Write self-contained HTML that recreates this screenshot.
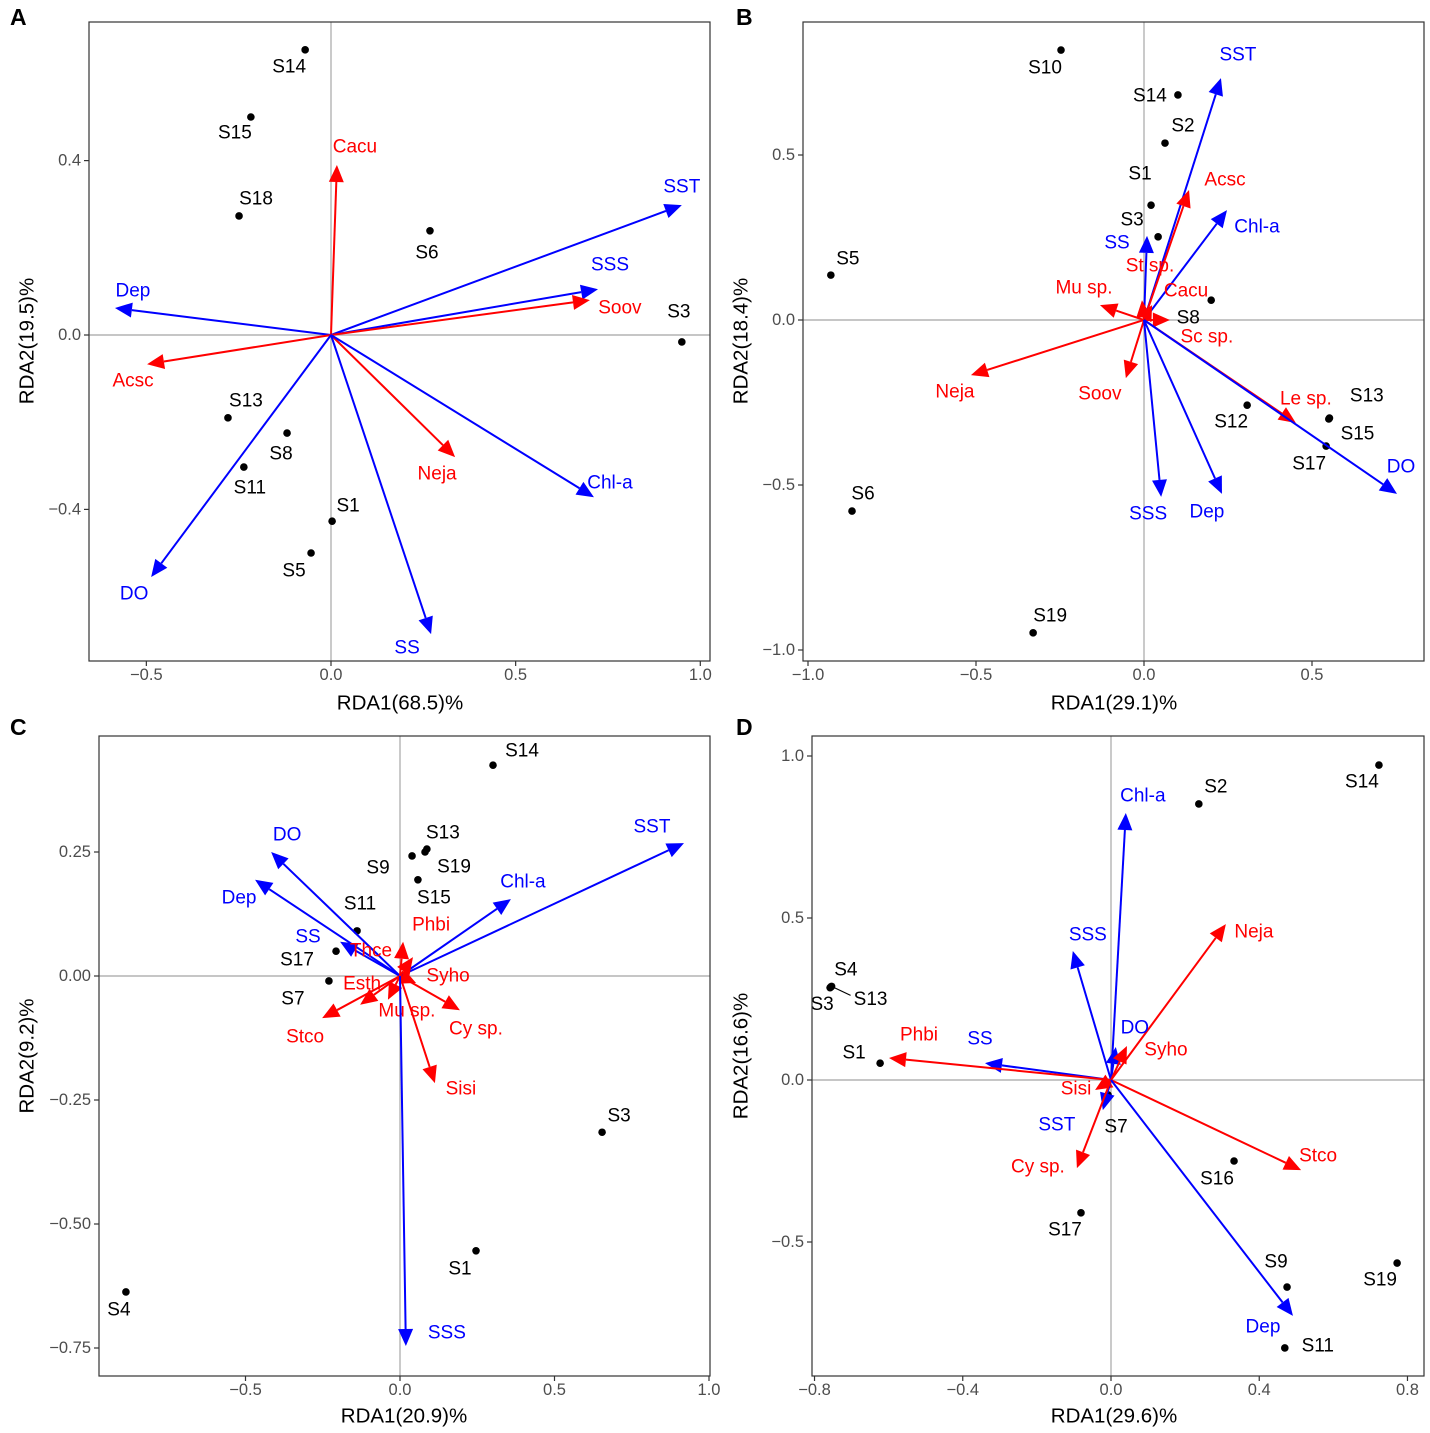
<!DOCTYPE html>
<html><head><meta charset="utf-8"><style>
body{margin:0;background:#fff;}
svg{display:block;font-family:"Liberation Sans",Arial,sans-serif;}
</style></head><body>
<svg id="chart" width="1430" height="1433" viewBox="0 0 1430 1433" xmlns="http://www.w3.org/2000/svg">
</svg>
<script>
// ---------- Panel A data ----------
const aPtNames=['S14','S15','S18','S6','S3','S13','S8','S11','S1','S5'];
const aPtX=[-0.07,-0.217,-0.249,0.268,0.95,-0.279,-0.119,-0.236,0.003,-0.054];
const aPtY=[0.654,0.5,0.273,0.239,-0.016,-0.19,-0.225,-0.303,-0.427,-0.5];
const aArrNames=['Cacu','SST','SSS','Soov','Dep','Acsc','Neja','Chl-a','DO','SS'];
const aArrX=[0.016,0.95,0.723,0.701,-0.585,-0.498,0.336,0.712,-0.487,0.271];
const aArrY=[0.39,0.298,0.105,0.08,0.062,-0.067,-0.28,-0.372,-0.555,-0.686];
const aArrType=['sp','env','env','sp','env','sp','sp','env','env','env'];
const aXTicks=[-0.5,0,0.5,1.0];
const aYTicks=[0.4,0,-0.4];
// ---------- Panel B data ----------
const bPtNames=['S10','S14','S2','S1','S3','S5','S8','S12','S13','S15','S17','S6','S19'];
const bPtX=[-0.247,0.101,0.0625,0.021,0.042,-0.932,0.2,0.307,0.55,0.552,0.542,-0.869,-0.33];
const bPtY=[0.818,0.682,0.536,0.348,0.252,0.136,0.06,-0.258,-0.3,-0.297,-0.382,-0.579,-0.948];
const bArrNames=['SST','Acsc','Chl-a','SS','St sp.','Mu sp.','Cacu','Sc sp.','Neja','Soov','Le sp.','DO','SSS','Dep'];
const bArrX=[0.229,0.134,0.247,0.009,-0.006,-0.131,0.024,0.077,-0.515,-0.054,0.452,0.753,0.051,0.232];
const bArrY=[0.733,0.394,0.333,0.255,0.06,0.045,0.045,0,-0.167,-0.176,-0.312,-0.527,-0.536,-0.527];
const bArrType=['env','sp','env','env','sp','sp','sp','sp','sp','sp','sp','env','env','env'];
const bXTicks=[-1.0,-0.5,0,0.5];
const bYTicks=[0.5,0,-0.5,-1.0];
// ---------- Panel C data ----------
const cPtNames=['S14','S13','S19','S9','S15','S11','S17','S7','S3','S1','S4'];
const cPtX=[0.301,0.087,0.081,0.039,0.058,-0.139,-0.207,-0.23,0.654,0.246,-0.887];
const cPtY=[0.425,0.256,0.25,0.242,0.194,0.091,0.05,-0.01,-0.315,-0.554,-0.637];
const cArrNames=['SST','DO','Dep','Chl-a','SS','Phbi','Thce','Syho','Esth','Mu sp.','Cy sp.','Stco','Sisi','SSS'];
const cArrX=[0.919,-0.417,-0.469,0.359,-0.194,0.01,0.042,0.052,-0.129,-0.039,0.194,-0.252,0.113,0.019];
const cArrY=[0.268,0.25,0.194,0.155,0.069,0.069,0.038,-0.014,-0.058,-0.048,-0.069,-0.085,-0.216,-0.746];
const cArrType=['env','env','env','env','env','sp','sp','sp','sp','sp','sp','sp','sp','env'];
const cXTicks=[-0.5,0,0.5,1.0];
const cYTicks=[0.25,0,-0.25,-0.5,-0.75];
// ---------- Panel D data ----------
const dPtNames=['S14','S2','S4','S3','S13','S1','S16','S17','S9','S19','S11','S7'];
const dPtX=[0.723,0.237,-0.756,-0.758,-0.754,-0.623,0.332,-0.081,0.475,0.772,0.469,-0.008];
const dPtY=[0.972,0.852,0.287,0.285,0.289,0.052,-0.25,-0.41,-0.639,-0.565,-0.827,-0.046];
const dArrNames=['Chl-a','Neja','SSS','SS','Phbi','DO','Syho','Sisi','SST','Cy sp.','Stco','Dep'];
const dArrX=[0.04,0.31,-0.103,-0.34,-0.599,0.013,0.043,-0.043,-0.022,-0.092,0.513,0.491];
const dArrY=[0.824,0.481,0.398,0.052,0.068,0.102,0.105,-0.031,-0.093,-0.272,-0.278,-0.728];
const dArrType=['env','sp','env','env','sp','env','sp','sp','env','sp','sp','env'];
const dXTicks=[-0.8,-0.4,0,0.4,0.8];
const dYTicks=[1.0,0.5,0,-0.5];

// ---------- layout (pixels, not data) ----------
const panels=[
 {id:'a',letter:'A',lx:10,ly:17,box:[89,22,710,661],x0:331,xs:369.3,y0:335,ys:436,dec:1,xt:'RDA1(68.5)%',yt:'RDA2(19.5)%',xtp:[400,703],ytp:[27,341],
  pN:aPtNames,pX:aPtX,pY:aPtY,aN:aArrNames,aX:aArrX,aY:aArrY,aT:aArrType,xT:aXTicks,yT:aYTicks,
  pOff:[[-16,17],[-16,16],[17,-17],[-3,22],[-3,-30],[18,-17],[-6,21],[6,21],[16,-15],[-17,18]],
  aOff:[[18,-18],[0,-18],[12,-24],[30,8],[18,-17],[-14,17],[-18,17],[16,-14],[-17,17],[-24,14]]},
 {id:'b',letter:'B',lx:736,ly:17,box:[803,22,1424,661],x0:1144,xs:336,y0:320,ys:330,dec:1,xt:'RDA1(29.1)%',yt:'RDA2(18.4)%',xtp:[1114,703],ytp:[741,341],
  pN:bPtNames,pX:bPtX,pY:bPtY,aN:bArrNames,aX:bArrX,aY:bArrY,aT:bArrType,xT:bXTicks,yT:bYTicks,
  pOff:[[-16,18],[-28,1],[18,-17],[-11,-31],[-26,-17],[17,-16],[-23,18],[-16,17],[38,-23],[28,16],[-17,18],[11,-17],[17,-17]],
  aOff:[[17,-23],[36,-10],[30,17],[-30,7],[8,-34],[-16,-17],[34,-14],[37,17],[-16,17],[-26,16],[10,-24],[4,-27],[-13,17],[-15,18]]},
 {id:'c',letter:'C',lx:10,ly:727,box:[99,736,710,1376],x0:400,xs:309,y0:976,ys:496,dec:2,xt:'RDA1(20.9)%',yt:'RDA2(9.2)%',xtp:[404,1416],ytp:[27,1056],
  pN:cPtNames,pX:cPtX,pY:cPtY,aN:cArrNames,aX:cArrX,aY:cArrY,aT:cArrType,xT:cXTicks,yT:cYTicks,xdec:1,
  pOff:[[29,-14],[16,-16],[29,15],[-34,12],[16,18],[3,-27],[-39,9],[-36,18],[17,-16],[-16,18],[-7,18]],
  aOff:[[-32,-16],[16,-17],[-16,18],[12,-17],[-32,-5],[28,-17],[-42,-6],[32,-7],[2,-21],[19,11],[16,19],[-17,19],[26,6],[41,-13]]},
 {id:'d',letter:'D',lx:736,ly:727,box:[812,736,1424,1376],x0:1111,xs:370.6,y0:1080,ys:324,dec:1,xt:'RDA1(29.6)%',yt:'RDA2(16.6)%',xtp:[1114,1416],ytp:[741,1056],
  pN:dPtNames,pX:dPtX,pY:dPtY,aN:dArrNames,aX:dArrX,aY:dArrY,aT:dArrType,xT:dXTicks,yT:dYTicks,
  pOff:[[-17,17],[17,-17],[15,-17],[-8,17],[39,13],[-26,-10],[-17,18],[-16,17],[-11,-25],[-17,17],[33,-2],[8,32]],
  aOff:[[17,-17],[28,8],[15,-16],[-5,-24],[30,-23],[19,-19],[39,4],[-19,-1],[-46,15],[-39,-1],[17,-14],[-30,11]]}
];
const NS='http://www.w3.org/2000/svg';
const svg=document.getElementById('chart');
function mk(tag,attrs,parent,text){const e=document.createElementNS(NS,tag);for(const k in attrs)e.setAttribute(k,attrs[k]);if(text!==undefined)e.textContent=text;(parent||svg).appendChild(e);return e;}
function fmt(v,d){const s=Math.abs(v).toFixed(d);return (v<0?'\u2212':'')+s;}
const BLUE='#0000ff',RED='#ff0000';
panels.forEach(p=>{
  const g=mk('g',{});
  
  
  const sx=v=>p.x0+v*p.xs, sy=v=>p.y0-v*p.ys;
  const [L,T,R,B]=p.box;
  const let_=mk('text',{x:p.lx,y:p.ly,'font-size':23,'font-weight':'bold','dominant-baseline':'central'},g,p.letter);
  
  
  const zx=mk('line',{x1:L,x2:R,y1:sy(0),y2:sy(0),stroke:'#b3b3b3','stroke-width':1.4},g);
  
  
  const zy=mk('line',{x1:sx(0),x2:sx(0),y1:T,y2:B,stroke:'#b3b3b3','stroke-width':1.4},g);
  
  
  const xd=p.xdec!==undefined?p.xdec:1;
  p.xT.forEach(v=>{
    mk('line',{x1:sx(v),x2:sx(v),y1:B,y2:B+5,stroke:'#333','stroke-width':1.2},g);
    const t=mk('text',{x:sx(v),y:B+19,'font-size':16.5,fill:'#4d4d4d','text-anchor':'middle'},g,fmt(v,xd));
    
    
  });
  p.yT.forEach(v=>{
    mk('line',{x1:L-5,x2:L,y1:sy(v),y2:sy(v),stroke:'#333','stroke-width':1.2},g);
    const t=mk('text',{x:L-8,y:sy(v),'font-size':16.5,fill:'#4d4d4d','text-anchor':'end','dominant-baseline':'central'},g,fmt(v,p.dec));
    
    
  });
  const xt=mk('text',{x:p.xtp[0],y:p.xtp[1],'font-size':20.5,'text-anchor':'middle','dominant-baseline':'central'},g,p.xt);
  
  
  const yt=mk('text',{x:p.ytp[0],y:p.ytp[1],'font-size':20.5,'text-anchor':'middle','dominant-baseline':'central',transform:`rotate(-90 ${p.ytp[0]} ${p.ytp[1]})`},g,p.yt);
  
  
  if(p.id==='d'){const i=p.pN.indexOf('S13');mk('line',{x1:sx(p.pX[i]),y1:sy(p.pY[i]),x2:sx(p.pX[i])+p.pOff[i][0]-20,y2:sy(p.pY[i])+p.pOff[i][1]-4,stroke:'#000','stroke-width':1.2},g);}
  p.pN.forEach((n,i)=>{
    const c=mk('circle',{cx:sx(p.pX[i]),cy:sy(p.pY[i]),r:3.8,fill:'#000'},g);
    
    
    const t=mk('text',{x:sx(p.pX[i])+p.pOff[i][0],y:sy(p.pY[i])+p.pOff[i][1],'font-size':19,'text-anchor':'middle','dominant-baseline':'central'},g,n);
    
    
  });
  p.aN.forEach((n,i)=>{
    const col=p.aT[i]==='env'?BLUE:RED;
    const x1=sx(0),y1=sy(0),x2=sx(p.aX[i]),y2=sy(p.aY[i]);
    const dx=x2-x1,dy=y2-y1,len=Math.hypot(dx,dy)||1,ux=dx/len,uy=dy/len;
    const hl=Math.min(17,len*0.9),hw=7.5;
    const bx=x2-ux*hl,by=y2-uy*hl;
    const ln=mk('line',{x1:x1,y1:y1,x2:bx,y2:by,stroke:col,'stroke-width':2},g);
    
    
    const hd=mk('polygon',{points:`${x2},${y2} ${bx-uy*hw},${by+ux*hw} ${bx+uy*hw},${by-ux*hw}`,fill:col},g);
    
    
    const t=mk('text',{x:x2+p.aOff[i][0],y:y2+p.aOff[i][1],'font-size':19,fill:col,'text-anchor':'middle','dominant-baseline':'central'},g,n);
    
    
  });
  const bd=mk('rect',{x:L,y:T,width:R-L,height:B-T,fill:'none',stroke:'#333','stroke-width':1.2},g);
  
  
});
</script>
</body></html>
